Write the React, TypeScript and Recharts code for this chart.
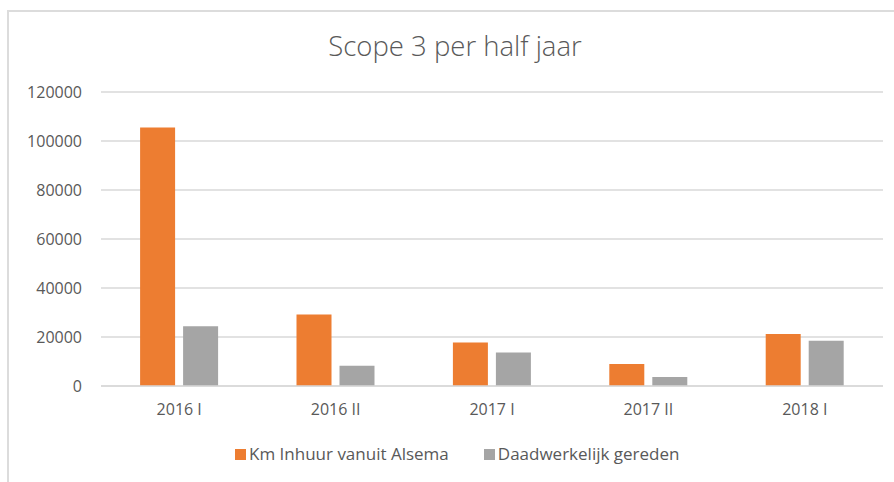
import { BarChart, Bar, XAxis, YAxis, CartesianGrid, Legend } from 'recharts';

// categories (half years)
const periods = ['2016 I', '2016 II', '2017 I', '2017 II', '2018 I'];
// km rented out from Alsema
const kmInhuur = [105500, 29200, 17800, 9000, 21200];
// km actually driven
const daadwerkelijk = [24400, 8300, 13700, 3700, 18500];
const yTicks = [0, 20000, 40000, 60000, 80000, 100000, 120000];

const seriesNames = ['Km Inhuur vanuit Alsema', 'Daadwerkelijk gereden'];
const seriesColors = ['#ED7D31', '#A5A5A5'];

const data = periods.map((p, i) => ({
  period: p,
  inhuur: kmInhuur[i],
  gereden: daadwerkelijk[i],
}));

const textColor = '#595959';
const font = '"Open Sans", sans-serif';

const renderLegend = () => (
  <div
    style={{
      display: 'flex', justifyContent: 'flex-start', gap: 35, paddingTop: 28, paddingLeft: 235,
      fontFamily: font, fontSize: 17, lineHeight: '20px', color: textColor,
    }}
  >
    {seriesNames.map((name, i) => (
      <div key={name} style={{ display: 'flex', alignItems: 'center' }}>
        <span style={{ width: 11, height: 11, background: seriesColors[i], marginRight: 3, display: 'inline-block' }} />
        <span>{name}</span>
      </div>
    ))}
  </div>
);

export default function App() {
  return (
    <div style={{ position: 'absolute', left: 0, top: 0, width: 894, height: 482, background: '#fff', overflow: 'hidden' }}>
      {/* chart frame */}
      <div style={{ position: 'absolute', left: 7, top: 10, width: 920, height: 520, border: '2px solid #dcdcdc' }} />
      <div
        style={{
          position: 'absolute', left: 0, top: 27, width: 910, textAlign: 'center',
          fontFamily: font, fontSize: 27.5, color: textColor, fontWeight: 300,
        }}
      >
        Scope 3 per half jaar
      </div>
      <BarChart
        width={894}
        height={482}
        data={data}
        margin={{ top: 92, right: 11, bottom: 20, left: 0 }}
        barCategoryGap="25%"
        barGap={8}
        style={{ position: 'absolute', left: 0, top: 0 }}
      >
        <CartesianGrid vertical={false} stroke="#d9d9d9" strokeWidth={1.5} />
        <XAxis
          dataKey="period"
          axisLine={{ stroke: '#d9d9d9', strokeWidth: 1.5 }}
          tickLine={false}
          tickSize={0}
          tickMargin={18}
          height={30}
          tick={{ fill: textColor, fontSize: 16, fontFamily: font }}
        />
        <YAxis
          domain={[0, 120000]}
          ticks={yTicks}
          width={101}
          axisLine={false}
          tickLine={false}
          tickSize={0}
          tickMargin={19}
          tick={{ fill: textColor, fontSize: 16, fontFamily: font }}
        />
        <Legend
          verticalAlign="bottom"
          height={46}
          content={renderLegend}
        />
        <Bar dataKey="inhuur" name={seriesNames[0]} fill={seriesColors[0]} isAnimationActive={false} />
        <Bar dataKey="gereden" name={seriesNames[1]} fill={seriesColors[1]} isAnimationActive={false} />
      </BarChart>
    </div>
  );
}
